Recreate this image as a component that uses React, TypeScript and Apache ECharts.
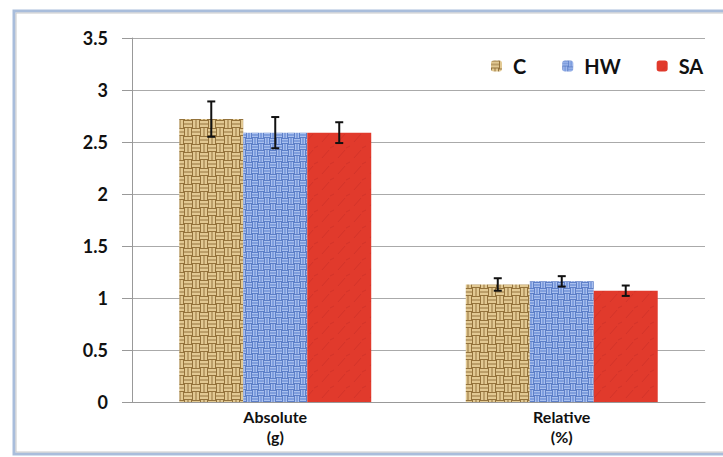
import React, { useEffect, useRef } from "react";
import * as echarts from "echarts";

const categories = ["Absolute\n(g)", "Relative\n(%)"];
const seriesNames = ["C", "HW", "SA"];
const valuesC = [2.72, 1.13];
const valuesHW = [2.59, 1.16];
const valuesSA = [2.59, 1.07];
const errC = [0.17, 0.06];
const errHW = [0.15, 0.05];
const errSA = [0.1, 0.05];
const yTicks = [0, 0.5, 1, 1.5, 2, 2.5, 3, 3.5];

function makeWeave(base: string, light: string, dark: string, cell: number, fine: boolean) {
  const c = document.createElement("canvas");
  const n = cell * 4;
  c.width = n;
  c.height = n;
  const g = c.getContext("2d")!;
  g.fillStyle = base;
  g.fillRect(0, 0, n, n);
  for (let i = 0; i < 4; i++) {
    for (let j = 0; j < 4; j++) {
      const x = i * cell;
      const y = j * cell;
      const horiz = (i + j) % 2 === 0;
      g.fillStyle = dark;
      g.fillRect(x, y, cell, cell);
      g.fillStyle = light;
      if (horiz) {
        g.fillRect(x, y + 1, cell, cell / 2 - 1.5);
        g.fillRect(x, y + cell / 2 + 0.5, cell, cell / 2 - 1.5);
      } else {
        g.fillRect(x + 1, y, cell / 2 - 1.5, cell);
        g.fillRect(x + cell / 2 + 0.5, y, cell / 2 - 1.5, cell);
      }
      if (fine) {
        g.fillStyle = base;
        g.fillRect(x + cell / 2 - 1, y + cell / 2 - 1, 2, 2);
      }
    }
  }
  return c;
}

function makeRed() {
  const c = document.createElement("canvas");
  c.width = 16;
  c.height = 16;
  const g = c.getContext("2d")!;
  g.fillStyle = "#e13a2c";
  g.fillRect(0, 0, 16, 16);
  g.strokeStyle = "#d3342a";
  g.lineWidth = 1;
  g.beginPath();
  g.moveTo(2, 14);
  g.lineTo(9, 6);
  g.moveTo(10, 4);
  g.lineTo(14, 2);
  g.stroke();
  return c;
}

export default function App() {
  const ref = useRef<HTMLDivElement>(null);
  useEffect(() => {
    if (!ref.current) return;
    const chart = echarts.init(ref.current, null, { renderer: "svg" });
    const patC = makeWeave("#c4a262", "#e2c993", "#94733c", 8, false);
    const patHW = makeWeave("#7d9ee0", "#a9c0ef", "#5d7fc8", 6, true);
    const patSA = makeRed();
    const fills: any[] = [
      { image: patC, repeat: "repeat" },
      { image: patHW, repeat: "repeat" },
      { image: patSA, repeat: "repeat" },
    ];
    const vals = [valuesC, valuesHW, valuesSA];
    const errs = [errC, errHW, errSA];
    const gapRatio = 0.33;

    const barSeries = seriesNames.map((name, s) => ({
      name,
      type: "bar",
      data: vals[s],
      barGap: "0%",
      barCategoryGap: "33%",
      itemStyle: { color: fills[s] },
      z: 2,
    }));

    const errSeries = seriesNames.map((name, s) => ({
      name: name + "-err",
      type: "custom",
      z: 5,
      silent: true,
      data: vals[s].map((v, i) => [i, v, errs[s][i]]),
      renderItem: (params: any, api: any) => {
        const i = api.value(0);
        const v = api.value(1);
        const e = api.value(2);
        const band = api.size([1, 0])[0];
        const bw = (band * (1 - gapRatio)) / 3;
        const cx = api.coord([i, v])[0] + (s - 1) * bw;
        const top = api.coord([i, v + e])[1];
        const bot = api.coord([i, v - e])[1];
        const cap = 4;
        const style = { stroke: "#111", lineWidth: 2 };
        return {
          type: "group",
          children: [
            { type: "line", shape: { x1: cx, y1: top, x2: cx, y2: bot }, style },
            { type: "line", shape: { x1: cx - cap, y1: top, x2: cx + cap, y2: top }, style },
            { type: "line", shape: { x1: cx - cap, y1: bot, x2: cx + cap, y2: bot }, style },
          ],
        };
      },
    }));

    chart.setOption({
      animation: false,
      backgroundColor: "#ffffff",
      textStyle: { fontFamily: "Lato" },
      graphic: [
        {
          type: "rect",
          shape: { x: 14, y: 11, width: 730, height: 443 },
          style: { fill: "none", stroke: "#a9bddb", lineWidth: 3 },
          z: 0,
        },
        {
          type: "rect",
          shape: { x: 16, y: 13, width: 730, height: 439 },
          style: { fill: "none", stroke: "#c8c8c8", lineWidth: 1 },
          z: 0,
        },
      ],
      legend: {
        data: seriesNames,
        left: 486,
        top: 51,
        itemWidth: 11,
        itemHeight: 11,
        itemGap: 36,
        textStyle: {
          fontSize: 20,
          fontWeight: "bold",
          color: "#111",
          fontFamily: "Lato",
          padding: [0, 0, 0, 6],
        },
      },
      grid: { left: 132, right: 18, top: 38, bottom: 55 },
      xAxis: {
        type: "category",
        data: categories,
        axisLine: { lineStyle: { color: "#999", width: 1 } },
        axisTick: { show: false },
        axisLabel: {
          color: "#111",
          fontSize: 16,
          fontWeight: "bold",
          fontFamily: "Lato",
          lineHeight: 20,
          margin: 4,
        },
      },
      yAxis: {
        type: "value",
        min: 0,
        max: 3.5,
        interval: 0.5,
        axisLine: { show: true, lineStyle: { color: "#999", width: 1 } },
        axisTick: { show: true, length: 10, lineStyle: { color: "#999" } },
        splitLine: { lineStyle: { color: "#aaa", width: 1 } },
        axisLabel: {
          color: "#111",
          fontSize: 18,
          fontWeight: "bold",
          fontFamily: "Lato",
          margin: 24,
          formatter: (v: number) => (yTicks.includes(v) ? String(v) : ""),
        },
      },
      series: [...barSeries, ...errSeries],
    });
    return () => chart.dispose();
  }, []);
  return (
    <div
      ref={ref}
      style={{ position: "fixed", left: 0, top: 0, width: 723, height: 457 }}
    />
  );
}
